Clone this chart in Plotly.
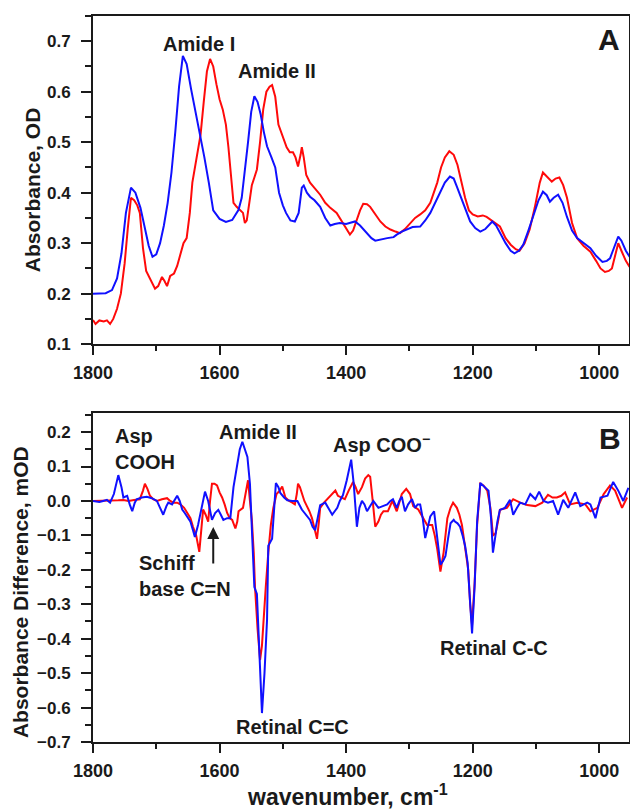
import plotly.graph_objects as go

# ---------------- Panel A: absorbance spectra ----------------
a_blue_x = [1800, 1790, 1780, 1770, 1762, 1755, 1748, 1740, 1733, 1725, 1718, 1712, 1706, 1700, 1694,
            1688, 1682, 1676, 1670, 1664, 1658, 1652, 1645, 1638, 1631, 1624, 1617, 1610, 1600, 1590,
            1580, 1570, 1565, 1560, 1555, 1550, 1545, 1540, 1535, 1530, 1525, 1518, 1512, 1506, 1500,
            1495, 1488, 1481, 1475, 1470, 1467, 1462, 1457, 1450, 1441, 1433, 1425, 1418, 1410, 1400,
            1392, 1386, 1378, 1367, 1360, 1354, 1345, 1335, 1325, 1320, 1312, 1304, 1295, 1283, 1275,
            1267, 1259, 1251, 1244, 1236, 1230, 1225, 1220, 1215, 1210, 1204, 1196, 1188, 1180, 1169,
            1163, 1157, 1148, 1140, 1134, 1127, 1120, 1112, 1104, 1096, 1089, 1083, 1078, 1072, 1065,
            1058, 1051, 1043, 1035, 1025, 1014, 1005, 995, 988, 983, 977, 970, 965, 958, 952]
a_blue_y = [0.200, 0.200, 0.201, 0.207, 0.23, 0.28, 0.36, 0.410, 0.40, 0.37, 0.33, 0.295, 0.273, 0.278, 0.30,
            0.335, 0.38, 0.44, 0.52, 0.61, 0.671, 0.655, 0.605, 0.56, 0.52, 0.47, 0.42, 0.365, 0.348, 0.342,
            0.346, 0.366, 0.39, 0.44, 0.50, 0.56, 0.591, 0.58, 0.555, 0.52, 0.492, 0.47, 0.45, 0.40, 0.375,
            0.36, 0.345, 0.343, 0.36, 0.41, 0.414, 0.40, 0.392, 0.385, 0.372, 0.35, 0.335, 0.338, 0.34, 0.338,
            0.34, 0.343, 0.335, 0.32, 0.31, 0.305, 0.308, 0.31, 0.312, 0.317, 0.323, 0.328, 0.332, 0.333, 0.345,
            0.36, 0.38, 0.40, 0.42, 0.432, 0.428, 0.412, 0.395, 0.38, 0.36, 0.343, 0.33, 0.323, 0.328, 0.343,
            0.335, 0.32, 0.30, 0.285, 0.28, 0.285, 0.297, 0.325, 0.353, 0.385, 0.402, 0.395, 0.382, 0.39, 0.396,
            0.38, 0.352, 0.325, 0.31, 0.30, 0.29, 0.275, 0.263, 0.265, 0.27, 0.29, 0.313, 0.305, 0.285, 0.273]

a_red_x = [1800, 1796, 1790, 1783, 1778, 1773, 1768, 1762, 1756, 1750, 1745, 1740, 1735, 1730, 1726,
           1721, 1716, 1710, 1706, 1702, 1697, 1691, 1687, 1683, 1678, 1672, 1667, 1662, 1657, 1652,
           1647, 1643, 1639, 1634, 1630, 1625, 1620, 1615, 1610, 1605, 1600, 1595, 1590, 1586, 1582,
           1578, 1573, 1568, 1563, 1560, 1557, 1553, 1549, 1545, 1541, 1536, 1531, 1526, 1521, 1517,
           1512, 1507, 1503, 1499, 1494, 1489, 1484, 1480, 1476, 1472, 1470, 1467, 1463, 1457, 1450,
           1441, 1433, 1425, 1415, 1405, 1398, 1394, 1389, 1383, 1378, 1373, 1367, 1362, 1355, 1346,
           1338, 1330, 1322, 1315, 1307, 1299, 1291, 1283, 1275, 1267, 1262, 1256, 1250, 1244, 1237,
           1230, 1224, 1218, 1212, 1206, 1200, 1192, 1184, 1178, 1170, 1163, 1157, 1148, 1140, 1132,
           1126, 1118, 1110, 1102, 1094, 1089, 1083, 1075, 1069, 1063, 1057, 1051, 1043, 1035, 1025,
           1014, 1005, 998, 991, 985, 980, 975, 970, 965, 958, 952]
a_red_y = [0.148, 0.14, 0.147, 0.145, 0.147, 0.14, 0.15, 0.17, 0.20, 0.26, 0.33, 0.39, 0.385, 0.375, 0.36,
           0.29, 0.245, 0.23, 0.22, 0.21, 0.215, 0.233, 0.225, 0.215, 0.235, 0.24, 0.255, 0.277, 0.30, 0.31,
           0.36, 0.42, 0.45, 0.48, 0.515, 0.58, 0.64, 0.665, 0.65, 0.615, 0.585, 0.565, 0.535, 0.49, 0.43,
           0.38, 0.372, 0.366, 0.36, 0.34, 0.345, 0.38, 0.415, 0.43, 0.446, 0.50, 0.565, 0.60, 0.61, 0.613,
           0.59, 0.535, 0.52, 0.505, 0.49, 0.48, 0.48, 0.47, 0.452, 0.475, 0.49, 0.47, 0.435, 0.42, 0.41,
           0.396, 0.38, 0.37, 0.36, 0.34, 0.325, 0.317, 0.325, 0.347, 0.365, 0.378, 0.377, 0.372, 0.36, 0.343,
           0.333, 0.327, 0.323, 0.32, 0.328, 0.34, 0.35, 0.357, 0.365, 0.38, 0.40, 0.42, 0.45, 0.47, 0.482,
           0.475, 0.455, 0.42, 0.39, 0.365, 0.357, 0.353, 0.355, 0.352, 0.345, 0.34, 0.333, 0.31, 0.297, 0.288,
           0.285, 0.30, 0.327, 0.37, 0.42, 0.44, 0.432, 0.422, 0.428, 0.43, 0.415, 0.39, 0.34, 0.31, 0.295,
           0.283, 0.265, 0.25, 0.243, 0.245, 0.25, 0.275, 0.30, 0.285, 0.265, 0.253]

# ---------------- Panel B: difference spectra ----------------
b_blue_x = [1800, 1790, 1784, 1778, 1773, 1767, 1760, 1755, 1752, 1746, 1742, 1738, 1734, 1731, 1723,
            1715, 1707, 1699, 1694, 1689, 1684, 1681, 1675, 1667, 1663, 1659, 1655, 1651, 1646, 1642,
            1639, 1634, 1628, 1623, 1618, 1612, 1607, 1602, 1598, 1594, 1588, 1583, 1578, 1572, 1568,
            1564, 1560, 1556, 1552, 1549, 1545, 1541, 1537, 1533, 1529, 1525, 1523, 1520, 1517, 1514,
            1511, 1507, 1504, 1498, 1493, 1485, 1477, 1470, 1463, 1457, 1453, 1449, 1445, 1441, 1433,
            1428, 1422, 1418, 1414, 1410, 1405, 1399, 1392, 1388, 1383, 1379, 1375, 1371, 1367, 1362,
            1357, 1353, 1349, 1342, 1335, 1330, 1326, 1320, 1316, 1312, 1307, 1302, 1296, 1291, 1287,
            1283, 1279, 1275, 1270, 1267, 1261, 1256, 1251, 1247, 1243, 1239, 1235, 1230, 1228, 1224,
            1220, 1216, 1212, 1208, 1204, 1201, 1197, 1193, 1188, 1184, 1180, 1175, 1171, 1168, 1164,
            1161, 1157, 1149, 1141, 1136, 1130, 1125, 1117, 1109, 1101, 1095, 1088, 1081, 1073, 1065,
            1057, 1049, 1038, 1030, 1019, 1014, 1006, 998, 987, 978, 970, 962, 954]
b_blue_y = [0.0, -0.003, 0.0, 0.003, -0.005, 0.02, 0.075, 0.04, 0.01, 0.015, -0.01, -0.03, -0.005, 0.005, 0.01,
            0.012, 0.008, 0.0, -0.02, -0.04, -0.015, -0.005, -0.01, 0.015, 0.0, -0.025, -0.035, -0.045, -0.06, -0.085,
            -0.105, -0.07, -0.02, 0.027, 0.0, -0.055, -0.035, -0.026, -0.04, -0.055, -0.05, -0.05, 0.04, 0.11, 0.15,
            0.172, 0.15, 0.128, 0.05, -0.085, -0.25, -0.27, -0.45, -0.616, -0.5, -0.346, -0.13, -0.12, -0.11, -0.03,
            0.052, 0.04, 0.023, 0.01, 0.002, 0.0, 0.0, -0.025, -0.04, -0.055, -0.075, -0.085, -0.05, -0.012, -0.005,
            -0.02, -0.04, -0.03, -0.02, 0.0, 0.017, 0.06, 0.12, 0.05, -0.075, -0.02, 0.0, -0.01, -0.03, -0.015,
            0.0, -0.01, -0.02, -0.015, -0.01, 0.0, 0.005, -0.02, 0.0, 0.012, -0.03, -0.01, 0.005, -0.02, -0.01,
            -0.01, -0.05, -0.108, -0.07, -0.045, -0.03, -0.1, -0.185, -0.175, -0.16, -0.11, -0.065, -0.055, -0.06, -0.065,
            -0.075, -0.1, -0.13, -0.18, -0.3, -0.385, -0.25, -0.06, 0.052, 0.045, 0.04, 0.03, -0.05, -0.15, -0.1,
            -0.06, -0.026, -0.02, 0.003, -0.04, -0.02, -0.005, -0.01, 0.02, 0.005, 0.027, 0.0, -0.005, 0.0, -0.04,
            0.003, -0.02, 0.025, -0.015, -0.005, -0.01, -0.05, 0.01, 0.015, 0.055, 0.03, 0.0, 0.038]

b_red_x = [1800, 1790, 1780, 1773, 1760, 1752, 1744, 1735, 1726, 1721, 1718, 1714, 1710, 1705, 1699,
           1691, 1683, 1678, 1673, 1667, 1662, 1656, 1651, 1646, 1642, 1637, 1632, 1629, 1626, 1622,
           1618, 1615, 1612, 1608, 1604, 1600, 1596, 1592, 1588, 1584, 1580, 1575, 1572, 1570, 1566,
           1563, 1559, 1555, 1552, 1549, 1546, 1544, 1540, 1536, 1533, 1531, 1527, 1523, 1519, 1515,
           1510, 1505, 1501, 1496, 1490, 1485, 1481, 1478, 1476, 1473, 1470, 1466, 1462, 1458, 1454,
           1450, 1446, 1443, 1441, 1435, 1430, 1424, 1417, 1413, 1408, 1402, 1396, 1389, 1385, 1381,
           1375, 1370, 1365, 1362, 1358, 1354, 1349, 1345, 1341, 1334, 1327, 1320, 1312, 1305, 1299,
           1294, 1286, 1278, 1272, 1264, 1260, 1256, 1251, 1246, 1240, 1235, 1231, 1225, 1221, 1217,
           1212, 1207, 1204, 1201, 1197, 1193, 1188, 1183, 1177, 1172, 1168, 1164, 1160, 1157, 1146,
           1136, 1125, 1114, 1101, 1090, 1081, 1074, 1067, 1060, 1054, 1046, 1035, 1022, 1014, 1003,
           993, 983, 975, 968, 964, 956]
b_red_y = [0.0, 0.0, 0.0, 0.0, 0.002, 0.003, 0.0, 0.003, 0.005, 0.03, 0.05, 0.035, 0.015, 0.005, 0.0,
           0.005, 0.008, 0.0, -0.005, -0.005, -0.01, -0.02, -0.035, -0.05, -0.075, -0.1, -0.148, -0.09, -0.025, -0.04,
           -0.06, 0.0, 0.05, 0.05, 0.045, 0.025, 0.01, -0.01, -0.035, -0.05, -0.055, -0.08, -0.06, -0.03, -0.025,
           -0.02, 0.02, 0.06, 0.0, -0.055, -0.15, -0.25, -0.37, -0.462, -0.42, -0.35, -0.25, -0.15, -0.07, -0.02,
           0.02, 0.03, 0.042, 0.01, 0.0, -0.005, -0.01, 0.02, 0.05, 0.04, 0.02, 0.0, -0.015, -0.03, -0.05,
           -0.08, -0.11, -0.06, -0.02, -0.005, 0.005, 0.015, 0.03, 0.015, 0.01, 0.005, 0.03, 0.055, 0.04, 0.02,
           0.04, 0.065, 0.075, 0.07, 0.0, -0.075, -0.06, -0.04, -0.03, -0.03, 0.0, -0.03, 0.02, 0.035, 0.02,
           -0.015, -0.025, -0.05, -0.07, -0.07, -0.1, -0.14, -0.205, -0.15, -0.05, -0.02, -0.005, -0.02, -0.04, -0.07,
           -0.13, -0.2, -0.3, -0.36, -0.24, -0.07, 0.05, 0.045, 0.03, -0.02, -0.1, -0.095, -0.06, -0.026, -0.02,
           0.005, -0.005, -0.012, -0.015, -0.005, 0.018, 0.01, 0.01, 0.015, 0.025, -0.01, -0.005, -0.01, -0.03, -0.02,
           0.02, 0.045, 0.03, 0.0, -0.02, 0.01]

x_tick_vals = [1800, 1600, 1400, 1200, 1000]
x_tick_text = ["1800", "1600", "1400", "1200", "1000"]

RED = "#ff0a0a"
BLUE = "#1010ff"
INK = "#1a1a1a"
FONT = "Liberation Sans, Arial, sans-serif"

fig = go.Figure()
fig.add_trace(go.Scatter(x=a_red_x, y=a_red_y, mode="lines", line=dict(color=RED, width=2),
                         xaxis="x", yaxis="y", showlegend=False))
fig.add_trace(go.Scatter(x=a_blue_x, y=a_blue_y, mode="lines", line=dict(color=BLUE, width=2),
                         xaxis="x", yaxis="y", showlegend=False))
fig.add_trace(go.Scatter(x=b_red_x, y=b_red_y, mode="lines", line=dict(color=RED, width=2),
                         xaxis="x2", yaxis="y2", showlegend=False))
fig.add_trace(go.Scatter(x=b_blue_x, y=b_blue_y, mode="lines", line=dict(color=BLUE, width=2),
                         xaxis="x2", yaxis="y2", showlegend=False))

tickfont_x = dict(family=FONT, size=18, color=INK, weight="bold")
tickfont_y = dict(family=FONT, size=17, color=INK, weight="bold")

def xaxis_cfg(anchor):
    return dict(anchor=anchor, range=[1800, 953], tickmode="array", tickvals=x_tick_vals,
                ticktext=x_tick_text, ticks="outside", ticklen=9, tickwidth=2, tickcolor=INK,
                showline=True, linewidth=2, linecolor=INK, mirror=True, showgrid=False,
                zeroline=False, tickfont=tickfont_x, ticklabelstandoff=2, automargin=False,
                minor=dict(tickmode="array", tickvals=[1700, 1500, 1300, 1100], ticks="outside",
                           ticklen=5, tickwidth=2, tickcolor=INK, showgrid=False))

def yaxis_cfg(anchor, rng, domain):
    return dict(anchor=anchor, range=rng, domain=domain, dtick=0.1, tick0=0, tickformat=".1f",
                ticks="outside", ticklen=10, tickwidth=2, tickcolor=INK,
                showline=True, linewidth=2, linecolor=INK, mirror=True, showgrid=False,
                zeroline=False, tickfont=tickfont_y, ticklabelstandoff=7, automargin=False,
                minor=dict(dtick=0.05, ticks="outside", ticklen=6, tickwidth=2, tickcolor=INK,
                           showgrid=False))

ann_font = dict(family=FONT, size=20, color=INK, weight="bold")
label_font = dict(family=FONT, size=30, color=INK, weight="bold")

annotations = [
    # panel A
    dict(x=1632, y=0.694, xref="x", yref="y", text="Amide I", showarrow=False, font=ann_font),
    dict(x=1509, y=0.641, xref="x", yref="y", text="Amide II", showarrow=False, font=ann_font),
    dict(x=984, y=0.704, xref="x", yref="y", text="A", showarrow=False, font=label_font),
    # panel B
    dict(x=1768, y=0.189, xref="x2", yref="y2", text="Asp", showarrow=False, font=ann_font, xanchor="left"),
    dict(x=1768, y=0.113, xref="x2", yref="y2", text="COOH", showarrow=False, font=ann_font, xanchor="left"),
    dict(x=1539, y=0.2, xref="x2", yref="y2", text="Amide II", showarrow=False, font=ann_font),
    dict(x=1424, y=0.166, xref="x2", yref="y2", text="Asp COO<sup>\u2212</sup>", showarrow=False,
         font=ann_font, xanchor="left"),
    dict(x=983, y=0.18, xref="x2", yref="y2", text="B", showarrow=False, font=label_font),
    dict(x=1730, y=-0.18, xref="x2", yref="y2", text="Schiff", showarrow=False, font=ann_font, xanchor="left"),
    dict(x=1730, y=-0.256, xref="x2", yref="y2", text="base C=N", showarrow=False, font=ann_font, xanchor="left"),
    dict(x=1610, y=-0.0756, xref="x2", yref="y2", ax=1610, ay=-0.186, axref="x2", ayref="y2",
         text="", showarrow=True, arrowhead=2, arrowsize=1.2, arrowwidth=2, arrowcolor=INK),
    dict(x=1484, y=-0.657, xref="x2", yref="y2", text="Retinal C=C", showarrow=False, font=ann_font),
    dict(x=1166, y=-0.427, xref="x2", yref="y2", text="Retinal C-C", showarrow=False, font=ann_font),
    # axis titles
    dict(x=-0.1138, y=0.760, xref="paper", yref="paper", xanchor="center", yanchor="middle",
         text="Absorbance, OD", textangle=-90,
         showarrow=False, font=dict(family=FONT, size=21, color=INK, weight="bold")),
    dict(x=-0.136, y=0.2066, xref="paper", yref="paper", xanchor="center", yanchor="middle",
         text="Absorbance Difference, mOD", textangle=-90,
         showarrow=False, font=dict(family=FONT, size=21, color=INK, weight="bold")),
    dict(x=0.474, y=-0.073, xref="paper", yref="paper", xanchor="center", yanchor="middle",
         text="wavenumber, cm<sup>-1</sup>",
         showarrow=False, font=dict(family=FONT, size=23, color=INK, weight="bold")),
]

fig.update_layout(
    width=630, height=812,
    margin=dict(l=93, r=1, t=16, b=70, autoexpand=False),
    paper_bgcolor="white", plot_bgcolor="white",
    xaxis=xaxis_cfg("y"),
    yaxis=yaxis_cfg("x", [0.1, 0.75], [0.548, 1.0]),
    xaxis2=xaxis_cfg("y2"),
    yaxis2=yaxis_cfg("x2", [-0.7, 0.255], [0.0, 0.453]),
    annotations=annotations,
    font=dict(family=FONT, color=INK),
)

fig.write_html("out.html", config={"displayModeBar": False},
               post_script="document.body.style.margin='0';document.body.style.padding='0';")
